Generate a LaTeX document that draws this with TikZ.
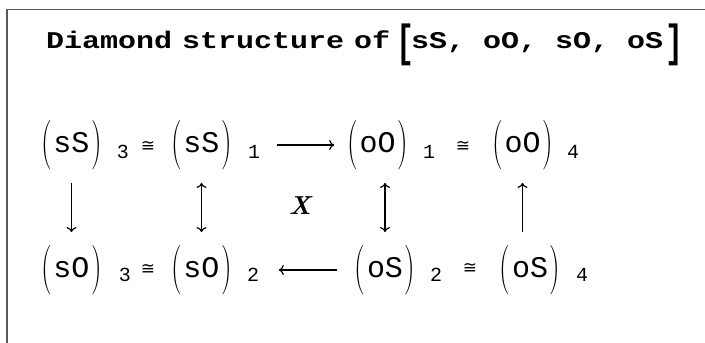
\documentclass[tikz,border=0pt]{standalone}
\usepackage{fontspec}
\setmonofont{Liberation Mono}
\newfontfamily\symfont{DejaVu Sans}
\usepackage{graphicx}
\usepackage{tikz}
\usetikzlibrary{arrows.meta}
\definecolor{framegray}{HTML}{5A5A5A}

% tall round brackets round a term
\newcommand{\tpar}[1]{\raisebox{-5pt}{\scalebox{1}[1.65]{\rmfamily #1}}}
\newcommand{\trm}[1]{\tpar{(}\hspace{1.5pt}#1\hspace{1.5pt}\tpar{)}}

\begin{document}
\begin{tikzpicture}[
    x=1pt, y=-1pt,
    every node/.style={inner sep=0pt},
    term/.style={font=\fontsize{30}{36}\selectfont\ttfamily},
    idx/.style={font=\fontsize{20}{22}\selectfont\ttfamily, anchor=base},
    iso/.style={font=\fontsize{17}{20}\selectfont\symfont},
    hdr/.style={font=\fontsize{30}{36}\selectfont\ttfamily\bfseries, anchor=base west},
    arr/.style={-{To[length=5pt,width=10pt]}, line width=1.2pt},
    dbl/.style={{To[length=5pt,width=10pt]}-{To[length=5pt,width=10pt]}, line width=1.2pt}
]
    \useasboundingbox (0,0) rectangle (705,343);

    % Frame
    \draw[framegray, line width=1.6pt] (7,343) -- (7,9.5) -- (705,9.5);

    % Title
    \node[hdr] (ttl) at (46,48) {\scalebox{1}[0.8]{Diamond\hspace{10pt}structure\hspace{10pt}of}};
    \node[hdr, anchor=center] (lbr) at (405,45) {\scalebox{1}[1.5]{[}};
    \node[hdr] (lst) at (411,48) {\scalebox{1}[0.8]{sS, oO, sO, oS}};
    \node[hdr, anchor=center] (rbr) at (674,45) {\scalebox{1}[1.5]{]}};

    % Top row
    \node[term] (sS3) at (71.5,145) {\trm{sS}};
    \node[idx] (i3a) at (123,158) {3};
    \node[iso] (c1) at (148,146) {≅};
    \node[term] (sS1) at (201.5,145) {\trm{sS}};
    \node[idx] (i1a) at (254,158) {1};
    \node[term] (oO1) at (377.5,145) {\trm{oO}};
    \node[idx] (i1b) at (429,158) {1};
    \node[iso] (c2) at (463,146) {≅};
    \node[term] (oO4) at (522.5,145) {\trm{oO}};
    \node[idx] (i4a) at (573,158) {4};

    % Bottom row
    \node[term] (sO3) at (71.5,270) {\trm{sO}};
    \node[idx] (i3b) at (125,281) {3};
    \node[iso] (c3) at (148,269) {≅};
    \node[term] (sO2) at (201.5,270) {\trm{sO}};
    \node[idx] (i2a) at (253,281) {2};
    \node[term] (oS2) at (385,270) {\trm{oS}};
    \node[idx] (i2b) at (436,281) {2};
    \node[iso] (c4) at (470,268) {≅};
    \node[term] (oS4) at (530,270) {\trm{oS}};
    \node[idx] (i4b) at (582,281) {4};

    % Middle label
    \node[font=\fontsize{26}{30}\selectfont\bfseries\itshape] (lx) at (300,206) {X};

    % Arrows
    \draw[arr, shorten <=45pt, shorten >=13pt] (sS1) -- (oO1);
    \draw[arr, shorten <=18pt, shorten >=47pt] (oS2) -- (sO2);
    \draw[arr, shorten <=13pt, shorten >=13pt] (sS3) -- (sO3);
    \draw[dbl, shorten <=13pt, shorten >=13pt] (sS1) -- (sO2);
    \draw[dbl] (oO1.south -| oS2) ++(0,13) -- ([yshift=13pt]oS2.north);
    \draw[arr] (oS4.north -| oO4) ++(0,-13) -- ([yshift=-13pt]oO4.south);
\end{tikzpicture}
\end{document}
